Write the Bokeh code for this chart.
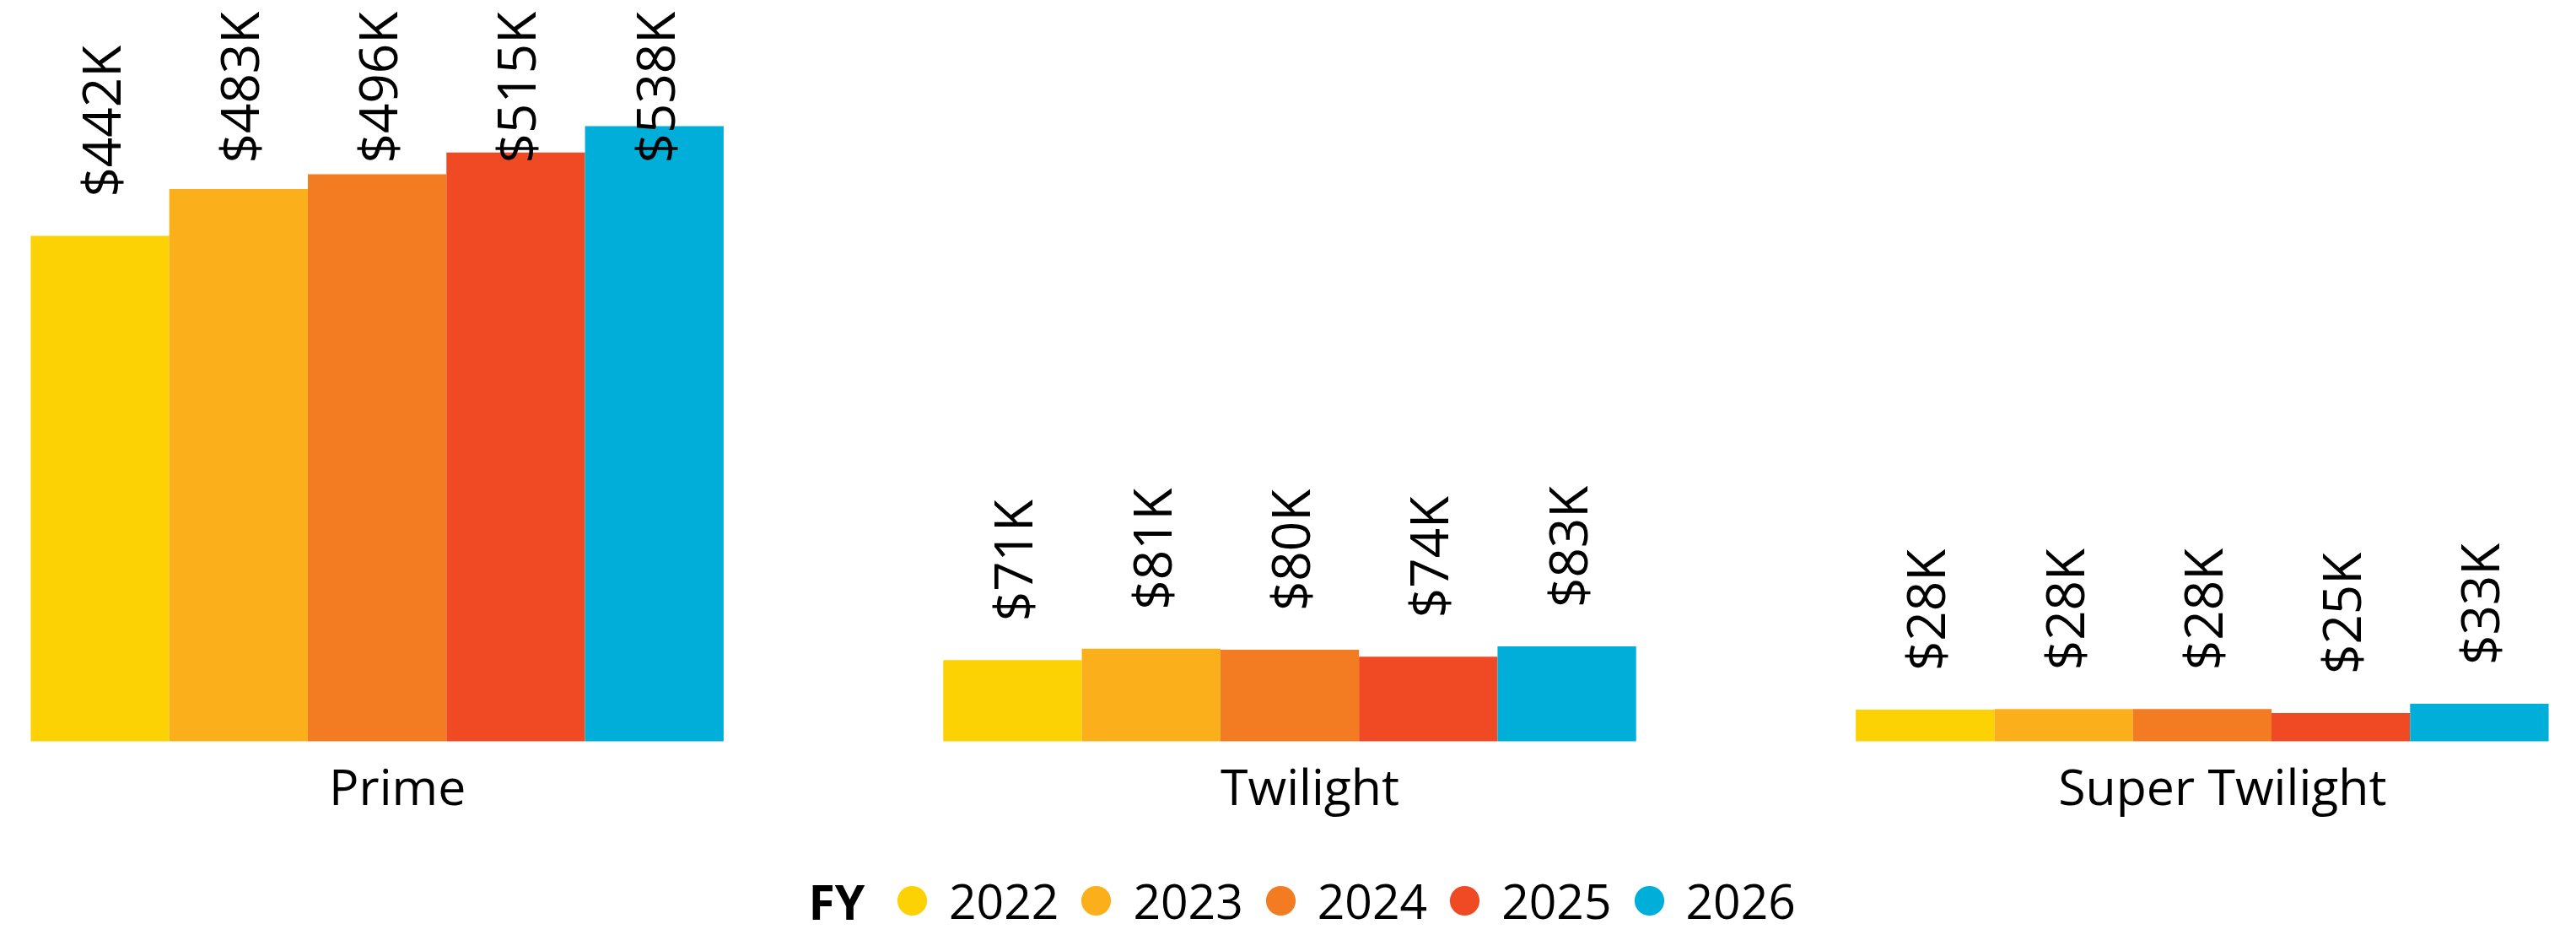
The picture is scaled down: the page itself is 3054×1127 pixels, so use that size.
import math
import numpy as np
from bokeh.plotting import figure
from bokeh.models import ColumnDataSource, FactorRange, Range1d, Legend, LegendItem, Label
from bokeh.core.properties import value
from bokeh.embed import file_html
from bokeh.resources import INLINE

# ---------------- data ----------------
categories = ["Prime", "Twilight", "Super Twilight"]
years = ["2022", "2023", "2024", "2025", "2026"]
colors = ["#FCD205", "#FBB01B", "#F37B21", "#EF4A23", "#00AEDA"]
# revenue in $K
prime = [442, 483, 496, 515, 538]
twilight = [71, 81, 80, 74, 83]
super_twilight = [27.6, 28.2, 28.3, 24.7, 32.8]

series = {"Prime": prime, "Twilight": twilight, "Super Twilight": super_twilight}

# ---------------- layout constants (pixels) ----------------
W, H = 3038, 1111
FONT = "Open Sans"
PX_PER_K = 1.355
BASE_FROM_TOP = 878          # frame px from top to the zero line
LABEL_GAP = 46               # gap between bar top and label anchor
LABEL_MAX_ANCHOR = 193       # labels never start above this (px from top)

y_end = BASE_FROM_TOP / PX_PER_K
y_start = -(H - BASE_FROM_TOP) / PX_PER_K
label_cap = y_end - (LABEL_MAX_ANCHOR + LABEL_GAP) / PX_PER_K

xs, tops, cols, texts = [], [], [], []
for c in categories:
    for yr, col, v in zip(years, colors, series[c]):
        xs.append((c, yr))
        tops.append(v)
        cols.append(col)
        texts.append(f"${round(v)}K")
label_y = list(np.minimum(np.array(tops, dtype=float), label_cap))

src = ColumnDataSource(dict(x=xs, top=tops, color=cols, label=texts, label_y=label_y))

x_range = FactorRange(*xs, group_padding=1.585, factor_padding=0.0,
                      range_padding=0.103, range_padding_units="absolute")

p = figure(width=W, height=H, x_range=x_range, y_range=Range1d(y_start, y_end),
           output_backend="svg", toolbar_location=None, min_border=0)
p.min_border_left = 19
p.xaxis.visible = False
p.yaxis.visible = False
p.grid.visible = False
p.outline_line_color = None
p.background_fill_color = "white"
p.border_fill_color = "white"

p.vbar(x="x", top="top", bottom=0, width=1.0, source=src,
       fill_color="color", line_color=None)

p.text(x="x", y="label_y", text="label", source=src, angle=math.pi / 2,
       text_align="left", text_baseline="middle", y_offset=-LABEL_GAP,
       text_font=value(FONT), text_font_size="62px", text_color="black")

cat_src = ColumnDataSource(dict(x=categories, y=[0] * len(categories), t=categories))
p.text(x="x", y="y", text="t", source=cat_src, x_offset=24, y_offset=52,
       text_align="center", text_baseline="alphabetic",
       text_font=value(FONT), text_font_size="59px", text_color="black")

# legend (one hidden point per year so the legend can draw its marker)
items = []
for yr, col in zip(years, colors):
    lsrc = ColumnDataSource(dict(x=[xs[0]], y=[float("nan")]))
    r = p.scatter(x="x", y="y", source=lsrc, marker="circle", fill_color=col, line_color=None)
    items.append(LegendItem(label=yr, renderers=[r]))

legend = Legend(items=items, orientation="horizontal", location=(1018, 0),
                glyph_width=88, glyph_height=88, label_standoff=0, spacing=0,
                padding=0, margin=0, border_line_color=None, background_fill_alpha=0,
                label_text_font=FONT, label_text_font_size="57px",
                label_text_color="black", label_text_baseline="middle")
p.add_layout(legend, "center")

p.add_layout(Label(x=939, y=44, x_units="screen", y_units="screen", text="FY",
                   text_font=FONT, text_font_size="57px", text_font_style="bold",
                   text_baseline="middle", text_align="left", text_color="black"))

open("out.html", "w").write(file_html(p, INLINE))
